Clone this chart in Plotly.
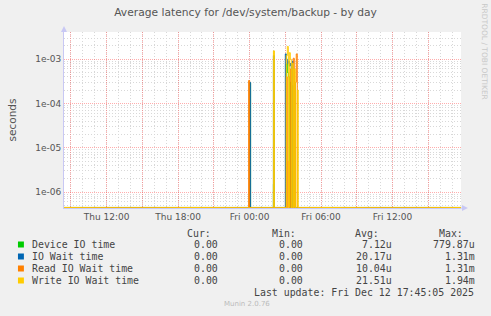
import numpy as np
import pandas as pd
import plotly.graph_objects as go

# ---------------- data ----------------
start = pd.Timestamp("2025-12-11 08:25")
end = pd.Timestamp("2025-12-12 17:45")
step = "5min"

series_names = ["Device IO time", "IO Wait time", "Read IO Wait time", "Write IO Wait time"]
series_colors = ["#00cc00", "#0066b3", "#ff8000", "#ffcc00"]

# non-zero samples (all other samples are 0)
device_times = ["2025-12-12 00:05", "2025-12-12 02:05", "2025-12-12 03:10", "2025-12-12 03:15",
                "2025-12-12 03:20", "2025-12-12 03:30", "2025-12-12 03:40", "2025-12-12 03:50"]
device_vals = [2.9e-4, 1.5e-6, 7.8e-4, 5.0e-4, 4.0e-4, 3.0e-4, 2.5e-4, 3.0e-4]

iowait_times = ["2025-12-12 00:05", "2025-12-12 02:05", "2025-12-12 03:05", "2025-12-12 03:10",
                "2025-12-12 03:15", "2025-12-12 03:20", "2025-12-12 03:25", "2025-12-12 03:30",
                "2025-12-12 03:40", "2025-12-12 03:45"]
iowait_vals = [3.0e-4, 1.2e-3, 1.31e-3, 1.0e-3, 8.0e-4, 9.0e-4, 7.0e-4, 8.0e-4, 9.0e-4, 6.0e-4]

read_times = ["2025-12-12 00:00", "2025-12-12 03:10", "2025-12-12 03:20", "2025-12-12 03:30",
              "2025-12-12 03:45", "2025-12-12 03:55", "2025-12-12 04:00"]
read_vals = [3.3e-4, 4.0e-4, 5.0e-6, 6.0e-4, 1.05e-3, 3.0e-4, 1.31e-3]

write_times = ["2025-12-12 02:05", "2025-12-12 03:10", "2025-12-12 03:15", "2025-12-12 03:25",
               "2025-12-12 03:30", "2025-12-12 03:40", "2025-12-12 03:50", "2025-12-12 04:05"]
write_vals = [1.54e-3, 1.2e-3, 1.94e-3, 1.4e-3, 1.0e-3, 8.0e-4, 6.0e-4, 2.0e-4]

y_tick_vals = [1e-6, 1e-5, 1e-4, 1e-3]
y_tick_text = ["1e-06", "1e-05", "1e-04", "1e-03"]
x_label_times = ["2025-12-11 12:00", "2025-12-11 18:00", "2025-12-12 00:00", "2025-12-12 06:00", "2025-12-12 12:00"]
x_label_text = ["Thu 12:00", "Thu 18:00", "Fri 00:00", "Fri 06:00", "Fri 12:00"]

cur_vals = ["0.00", "0.00", "0.00", "0.00"]
min_vals = ["0.00", "0.00", "0.00", "0.00"]
avg_vals = ["7.12u", "20.17u", "10.04u", "21.51u"]
max_vals = ["779.87u", "1.31m", "1.31m", "1.94m"]
last_update = "Last update: Fri Dec 12 17:45:05 2025"

# ---------------- geometry ----------------
W, H = 491, 316
L, R, T, B = 60, 461, 32, 208
ylo, yhi = -6.361, -2.387


def px(x):
    return (x - L) / (R - L)


def py(y):
    return (B - y) / (B - T)


times = pd.date_range(start, end, freq=step)


def build(ts, vs):
    s = pd.Series(0.0, index=times)
    s.loc[pd.to_datetime(ts)] = vs
    return s


series = [build(device_times, device_vals), build(iowait_times, iowait_vals),
          build(read_times, read_vals), build(write_times, write_vals)]
floor = 10 ** (ylo + 0.012)

fig = go.Figure()
for name, col, s in zip(series_names, series_colors, series):
    fig.add_trace(go.Scatter(x=s.index, y=np.maximum(s.values, floor), mode="lines",
                             line=dict(color=col, width=1, shape="vh"), name=name, showlegend=False))

# x ticks: grid every 3h, labels every 6h
grid3 = pd.date_range("2025-12-11 09:00", "2025-12-12 15:00", freq="3h")
lab = dict(zip(pd.to_datetime(x_label_times), x_label_text))
x_tickvals = list(grid3)
x_ticktext = [lab.get(t, "") for t in grid3]

y_minor = [m * 10.0 ** e for e in range(-7, -2) for m in range(2, 10)]

major_grid = "rgba(255,60,60,0.42)"
minor_grid = "#d8d8d8"
axis_col = "#c8c8f4"
font_col = "#555555"

fig.update_xaxes(range=[start, end], tickmode="array", tickvals=x_tickvals, ticktext=x_ticktext,
                 showgrid=True, gridcolor=major_grid, griddash="1px,1px", gridwidth=1,
                 minor=dict(dtick=3600000, showgrid=True, gridcolor=minor_grid, griddash="1px,2px"),
                 showline=True, linecolor=axis_col, linewidth=1, ticks="", zeroline=False,
                 tickfont=dict(family="DejaVu Sans", size=9, color=font_col), layer="below traces")
fig.update_yaxes(type="log", range=[ylo, yhi], tickmode="array", tickvals=y_tick_vals, ticktext=y_tick_text,
                 showgrid=True, gridcolor=major_grid, griddash="1px,1px", gridwidth=1,
                 minor=dict(tickmode="array", tickvals=y_minor, showgrid=True, gridcolor=minor_grid, griddash="1px,2px"),
                 showline=True, linecolor=axis_col, linewidth=1, ticks="", zeroline=False,
                 tickfont=dict(family="DejaVu Sans", size=9, color=font_col), layer="below traces",
                 title=dict(text="seconds", font=dict(family="DejaVu Sans", size=10.5, color=font_col), standoff=16))

annotations = []
mono = dict(family="DejaVu Sans Mono", size=9.9, color="#444444")


def txt(x, y, s, anchor="left", font=mono):
    annotations.append(dict(x=px(x), y=py(y), xref="paper", yref="paper", text=s, showarrow=False,
                            xanchor=anchor, yanchor="middle", font=font))


# legend header
for xr, h in zip([211, 296.5, 380.5, 465.5], ["Cur:", "Min:", "Avg:", "Max:"]):
    txt(xr, 233.3, h, "right")

shapes = []
for i, name in enumerate(series_names):
    yc = 244.5 + 12 * i
    shapes.append(dict(type="rect", xref="paper", yref="paper", x0=px(13.5), x1=px(19.5),
                       y0=py(yc + 3), y1=py(yc - 3), fillcolor=series_colors[i], line=dict(width=0)))
    txt(26, yc, name)
    txt(217.5, yc, cur_vals[i], "right")
    txt(303, yc, min_vals[i], "right")
    txt(393, yc, avg_vals[i], "right")
    txt(477, yc, max_vals[i], "right")
txt(476.5, 292.5, last_update, "right")
txt(245, 303.5, "Munin 2.0.76", "center", dict(family="DejaVu Sans", size=7, color="#bbbbbb"))

annotations.append(dict(x=px(485), y=py(52), xref="paper", yref="paper", text="RRDTOOL / TOBI OETIKER",
                        showarrow=False, textangle=90, xanchor="center", yanchor="middle",
                        font=dict(family="DejaVu Sans", size=7.5, color="#c8c8c8")))

# axis arrows
shapes.append(dict(type="path", xref="paper", yref="paper",
                   path=f"M {px(462)} {py(205)} L {px(468)} {py(208)} L {px(462)} {py(211)} Z",
                   fillcolor=axis_col, line=dict(width=0)))
shapes.append(dict(type="path", xref="paper", yref="paper",
                   path=f"M {px(57)} {py(32)} L {px(60)} {py(26)} L {px(63)} {py(32)} Z",
                   fillcolor=axis_col, line=dict(width=0)))
shapes.append(dict(type="line", xref="paper", yref="paper", x0=px(461), x1=px(464), y0=0, y1=0,
                   line=dict(color=axis_col, width=1)))

fig.update_layout(
    width=W, height=H,
    margin=dict(l=L, r=W - R, t=T, b=H - B),
    paper_bgcolor="#f0f0f0", plot_bgcolor="#ffffff",
    title=dict(text="Average latency for /dev/system/backup - by day", x=0.5, xref="container",
               xanchor="center", y=1 - 12.5 / H, yanchor="middle",
               font=dict(family="DejaVu Sans", size=10.7, color=font_col)),
    annotations=annotations, shapes=shapes, showlegend=False,
)

fig.write_html("out.html")
